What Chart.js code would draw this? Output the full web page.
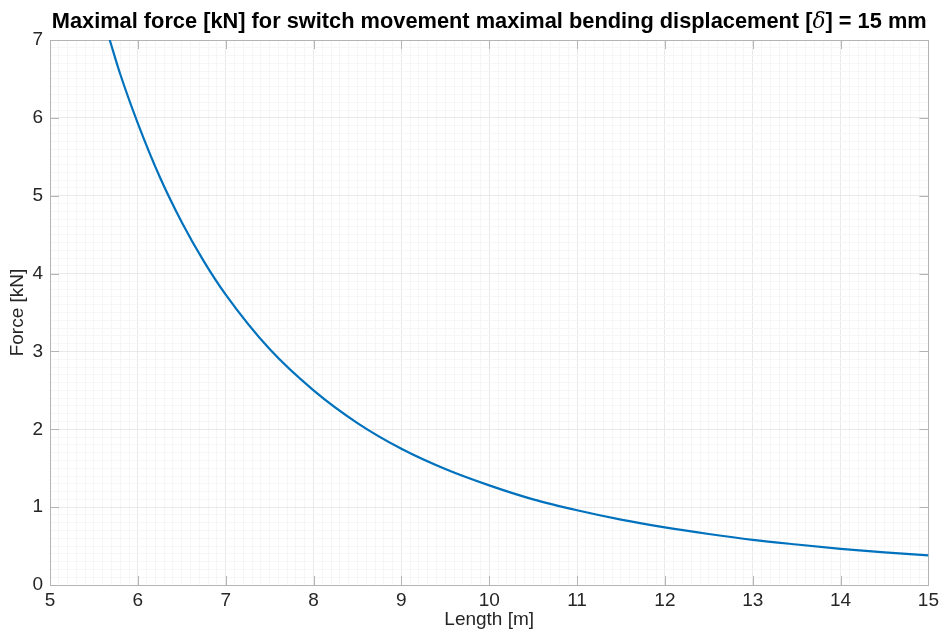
<!DOCTYPE html>
<html>
<head>
<meta charset="utf-8">
<script src="https://cdn.jsdelivr.net/npm/chart.js@4.4.1/dist/chart.umd.min.js"></script>
<style>
  html, body { margin: 0; padding: 0; background: #fff; }
  #wrap { width: 943px; height: 632px; }
</style>
</head>
<body>
<div id="wrap"><canvas id="chart" width="943" height="632"></canvas></div>
<script>
// values
const lengths = [5.68, 5.8, 6.0, 6.25, 6.5, 6.75, 7.0, 7.5, 8.0, 8.5, 9.0, 9.5, 10.0,
                 10.5, 11.0, 11.5, 12.0, 12.5, 13.0, 13.5, 14.0, 14.5, 15.0];
const forces = [7.0, 6.56, 5.93, 5.24, 4.66, 4.16, 3.73, 3.03, 2.5, 2.08, 1.75, 1.49, 1.28,
                1.1, 0.96, 0.84, 0.74, 0.655, 0.58, 0.52, 0.465, 0.42, 0.38];
const xRange = [5, 15];
const yRange = [0, 7];

const titleText = 'Maximal force [kN] for switch movement maximal bending displacement [';
const titleTail = '] = 15 mm';
const axisColor = '#b4b4b4';
const textColor = '#262626';
const fontFamily = '"Liberation Sans", Arial, Helvetica, sans-serif';

const isMajor = v => Math.abs(v - Math.round(v)) < 1e-6;

// box, inward ticks and title like the original figure
const matlabFrame = {
    id: 'matlabFrame',
    beforeDatasetsDraw(chart) {
        const { ctx, chartArea: a, scales: { x, y } } = chart;
        ctx.save();
        ctx.strokeStyle = axisColor;
        ctx.lineWidth = 1;
        ctx.beginPath();
        for (let v = xRange[0] + 1; v < xRange[1]; v++) {
            const px = Math.round(x.getPixelForValue(v)) + 0.5;
            ctx.moveTo(px, a.bottom); ctx.lineTo(px, a.bottom - 9);
            ctx.moveTo(px, a.top); ctx.lineTo(px, a.top + 9);
        }
        for (let v = yRange[0] + 1; v < yRange[1]; v++) {
            const py = Math.round(y.getPixelForValue(v)) + 0.5;
            ctx.moveTo(a.left, py); ctx.lineTo(a.left + 9, py);
            ctx.moveTo(a.right, py); ctx.lineTo(a.right - 9, py);
        }
        ctx.stroke();
        ctx.strokeRect(Math.round(a.left) + 0.5, Math.round(a.top) + 0.5,
                       Math.round(a.right - a.left), Math.round(a.bottom - a.top));
        ctx.restore();
    },
    afterDraw(chart) {
        const { ctx, chartArea: a } = chart;
        ctx.save();
        ctx.fillStyle = '#000';
        ctx.textBaseline = 'alphabetic';
        const bold = 'bold 21.8px ' + fontFamily;
        const ital = 'italic 21.8px "DejaVu Serif", serif';
        ctx.font = bold;
        const w1 = ctx.measureText(titleText).width;
        const w3 = ctx.measureText(titleTail).width;
        ctx.font = ital;
        const w2 = ctx.measureText('\u03B4').width;
        let sx = (a.left + a.right) / 2 - (w1 + w2 + w3) / 2;
        const by = 28;
        ctx.font = bold;
        ctx.fillText(titleText, sx, by);
        ctx.font = ital;
        ctx.fillText('\u03B4', sx + w1, by);
        ctx.font = bold;
        ctx.fillText(titleTail, sx + w1 + w2, by);
        ctx.restore();
    }
};

new Chart(document.getElementById('chart'), {
    type: 'line',
    data: {
        datasets: [{
            data: lengths.map((l, i) => ({ x: l, y: forces[i] })),
            borderColor: '#0072BD',
            borderWidth: 2.2,
            pointRadius: 0,
            cubicInterpolationMode: 'monotone',
            fill: false
        }]
    },
    options: {
        responsive: false,
        animation: false,
        layout: { padding: { top: 40, right: 13, left: 0, bottom: 0 } },
        plugins: {
            legend: { display: false },
            tooltip: { enabled: false }
        },
        scales: {
            x: {
                type: 'linear',
                min: xRange[0],
                max: xRange[1],
                afterFit: s => { s.height = 47; },
                border: { display: false },
                grid: {
                    drawTicks: false,
                    color: c => isMajor(c.tick.value) ? '#e9e9e9' : '#f6f6f6'
                },
                ticks: {
                    stepSize: 0.1,
                    autoSkip: false,
                    maxRotation: 0,
                    padding: 4,
                    color: textColor,
                    font: { family: fontFamily, size: 19 },
                    callback: v => isMajor(v) ? String(Math.round(v)) : ''
                },
                title: {
                    display: true,
                    text: 'Length [m]',
                    color: textColor,
                    font: { family: fontFamily, size: 19 },
                    padding: { top: 0, bottom: 1 }
                }
            },
            y: {
                type: 'linear',
                min: yRange[0],
                max: yRange[1],
                afterFit: s => { s.width = 50; },
                border: { display: false },
                grid: {
                    drawTicks: false,
                    color: c => isMajor(c.tick.value) ? '#e9e9e9' : '#f6f6f6'
                },
                ticks: {
                    stepSize: 0.1,
                    autoSkip: false,
                    padding: 7,
                    color: textColor,
                    font: { family: fontFamily, size: 19 },
                    callback: v => isMajor(v) ? String(Math.round(v)) : ''
                },
                title: {
                    display: true,
                    text: 'Force [kN]',
                    color: textColor,
                    font: { family: fontFamily, size: 19 },
                    padding: { top: 6, bottom: 0 }
                }
            }
        }
    },
    plugins: [matlabFrame]
});
</script>
</body>
</html>
